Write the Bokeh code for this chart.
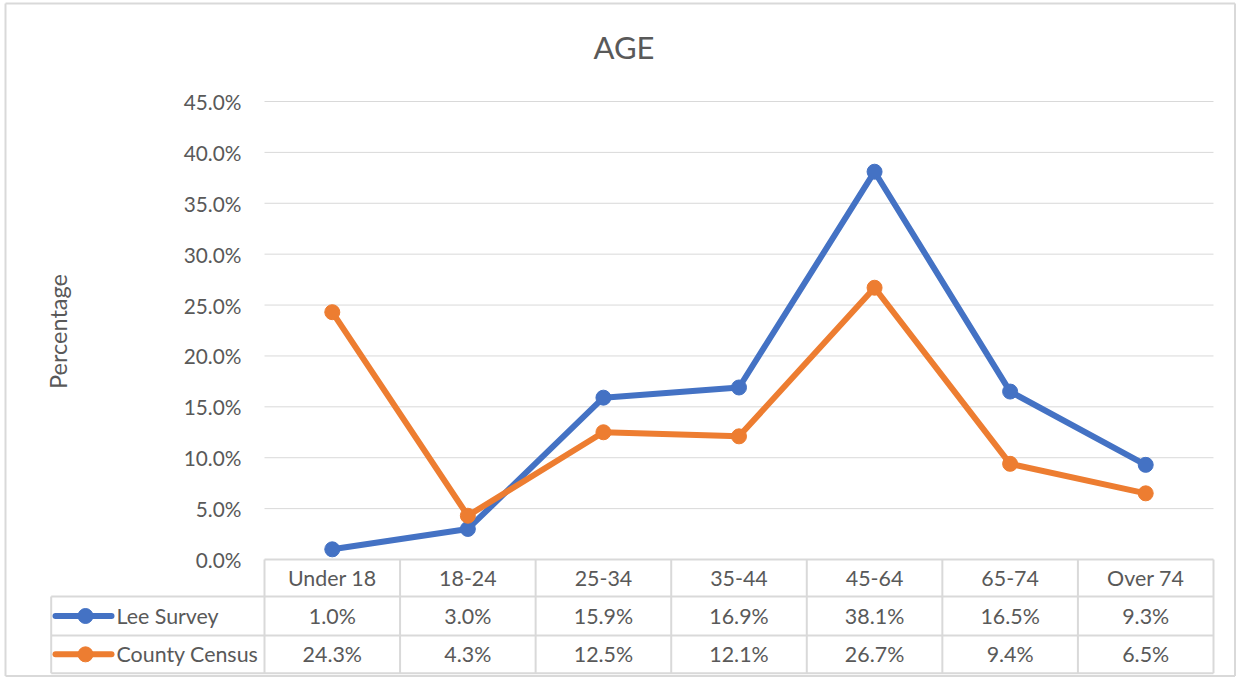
from bokeh.plotting import figure
from bokeh.embed import file_html
from bokeh.resources import INLINE
from bokeh.core.properties import value
import numpy as np

# ---- data ----
categories = ["Under 18", "18-24", "25-34", "35-44", "45-64", "65-74", "Over 74"]
lee_survey = [1.0, 3.0, 15.9, 16.9, 38.1, 16.5, 9.3]
county_census = [24.3, 4.3, 12.5, 12.1, 26.7, 9.4, 6.5]
series_names = ["Lee Survey", "County Census"]
y_ticks = [0, 5, 10, 15, 20, 25, 30, 35, 40, 45]
y_tick_labels = ["%.1f%%" % t for t in y_ticks]
title_text = "AGE"
y_label = "Percentage"

# ---- layout (pixels) ----
W, H = 1236, 677
PX_X0 = 264.0          # plot-area left edge in figure px
UNIT = 135.57          # px per category
PX_Y0 = 559.0          # 0% baseline in figure px (from top)
PPY = 10.178           # px per percentage point

def dx(px):
    return (px - PX_X0) / UNIT

def dy(px):
    return (PX_Y0 - px) / PPY

FONT = value("Lato")
TXT = "#595959"
GRID = "#d9d9d9"
BLUE = "#4472C4"
ORANGE = "#ED7D31"
FS = value("21.4px")

p = figure(width=W, height=H, output_backend="svg", toolbar_location=None,
           x_range=(dx(0), dx(W)), y_range=(dy(H), dy(0)),
           x_axis_type=None, y_axis_type=None,
           min_border=0, min_border_left=0, min_border_right=0,
           min_border_top=0, min_border_bottom=0)
p.outline_line_color = None
p.xgrid.visible = False
p.ygrid.visible = False
p.background_fill_color = "white"
p.border_fill_color = "white"

# chart border
bl, bt, br, bb = dx(5), dy(3), dx(W - 1.5), dy(H - 1.5)
p.segment(x0=[bl, bl, br, bl], x1=[br, bl, br, br], y0=[bt, bt, bt, bb], y1=[bt, bb, bb, bb],
          line_color="#d9d9d9", line_width=2)

n = len(categories)
xs = [i + 0.5 for i in range(n)]

# gridlines (above 0)
gy = [t for t in y_ticks if t > 0]
p.segment(x0=[0] * len(gy), x1=[n] * len(gy), y0=gy, y1=gy, line_color=GRID, line_width=1)

# y tick labels
p.text(x=[dx(241)] * len(y_ticks), y=y_ticks, text=y_tick_labels,
       text_font=FONT, text_font_size=value("20.8px"), text_color=TXT,
       text_align="right", text_baseline="middle")

# title
p.text(x=[dx(623.5)], y=[dy(46)], text=[title_text],
       text_font=FONT, text_font_size=value("31px"), text_color=TXT,
       text_align="center", text_baseline="middle")

# y axis label
p.text(x=[dx(57)], y=[dy(331)], text=[y_label], angle=np.pi / 2,
       text_font=FONT, text_font_size=value("23.5px"), text_color=TXT,
       text_align="center", text_baseline="middle")

# data table geometry
row_h = [0, dy(596), dy(635), dy(672.7)]
left_x = dx(50.7)

# horizontal table lines
p.segment(x0=[0], x1=[n], y0=[0], y1=[0], line_color=GRID, line_width=2)
p.segment(x0=[left_x] * 3, x1=[n] * 3, y0=row_h[1:], y1=row_h[1:], line_color=GRID, line_width=2)
# vertical lines
p.segment(x0=list(range(n + 1)), x1=list(range(n + 1)), y0=[0] * (n + 1),
          y1=[row_h[3]] * (n + 1), line_color=GRID, line_width=2)
p.segment(x0=[left_x], x1=[left_x], y0=[row_h[1]], y1=[row_h[3]], line_color=GRID, line_width=2)

# header labels
p.text(x=xs, y=[(row_h[0] + row_h[1]) / 2] * n, text=categories,
       text_font=FONT, text_font_size=FS, text_color=TXT,
       text_align="center", text_baseline="middle")

# series lines
for vals, col, name, r in [(lee_survey, BLUE, series_names[0], 1),
                           (county_census, ORANGE, series_names[1], 2)]:
    p.line(xs, vals, line_color=col, line_width=6, line_join="round", line_cap="round")
    p.scatter(xs, vals, size=15, fill_color=col, line_color=col)
    ymid = (row_h[r] + row_h[r + 1]) / 2
    p.text(x=xs, y=[ymid] * n, text=["%.1f%%" % v for v in vals],
           text_font=FONT, text_font_size=FS, text_color=TXT,
           text_align="center", text_baseline="middle")
    # legend key
    p.line([dx(55), dx(111)], [ymid, ymid], line_color=col, line_width=6, line_cap="round")
    p.scatter([dx(85)], [ymid], size=15, fill_color=col, line_color=col)
    p.text(x=[dx(116)], y=[ymid], text=[name],
           text_font=FONT, text_font_size=FS, text_color=TXT,
           text_align="left", text_baseline="middle")

open("out.html", "w").write(file_html(p, INLINE))
